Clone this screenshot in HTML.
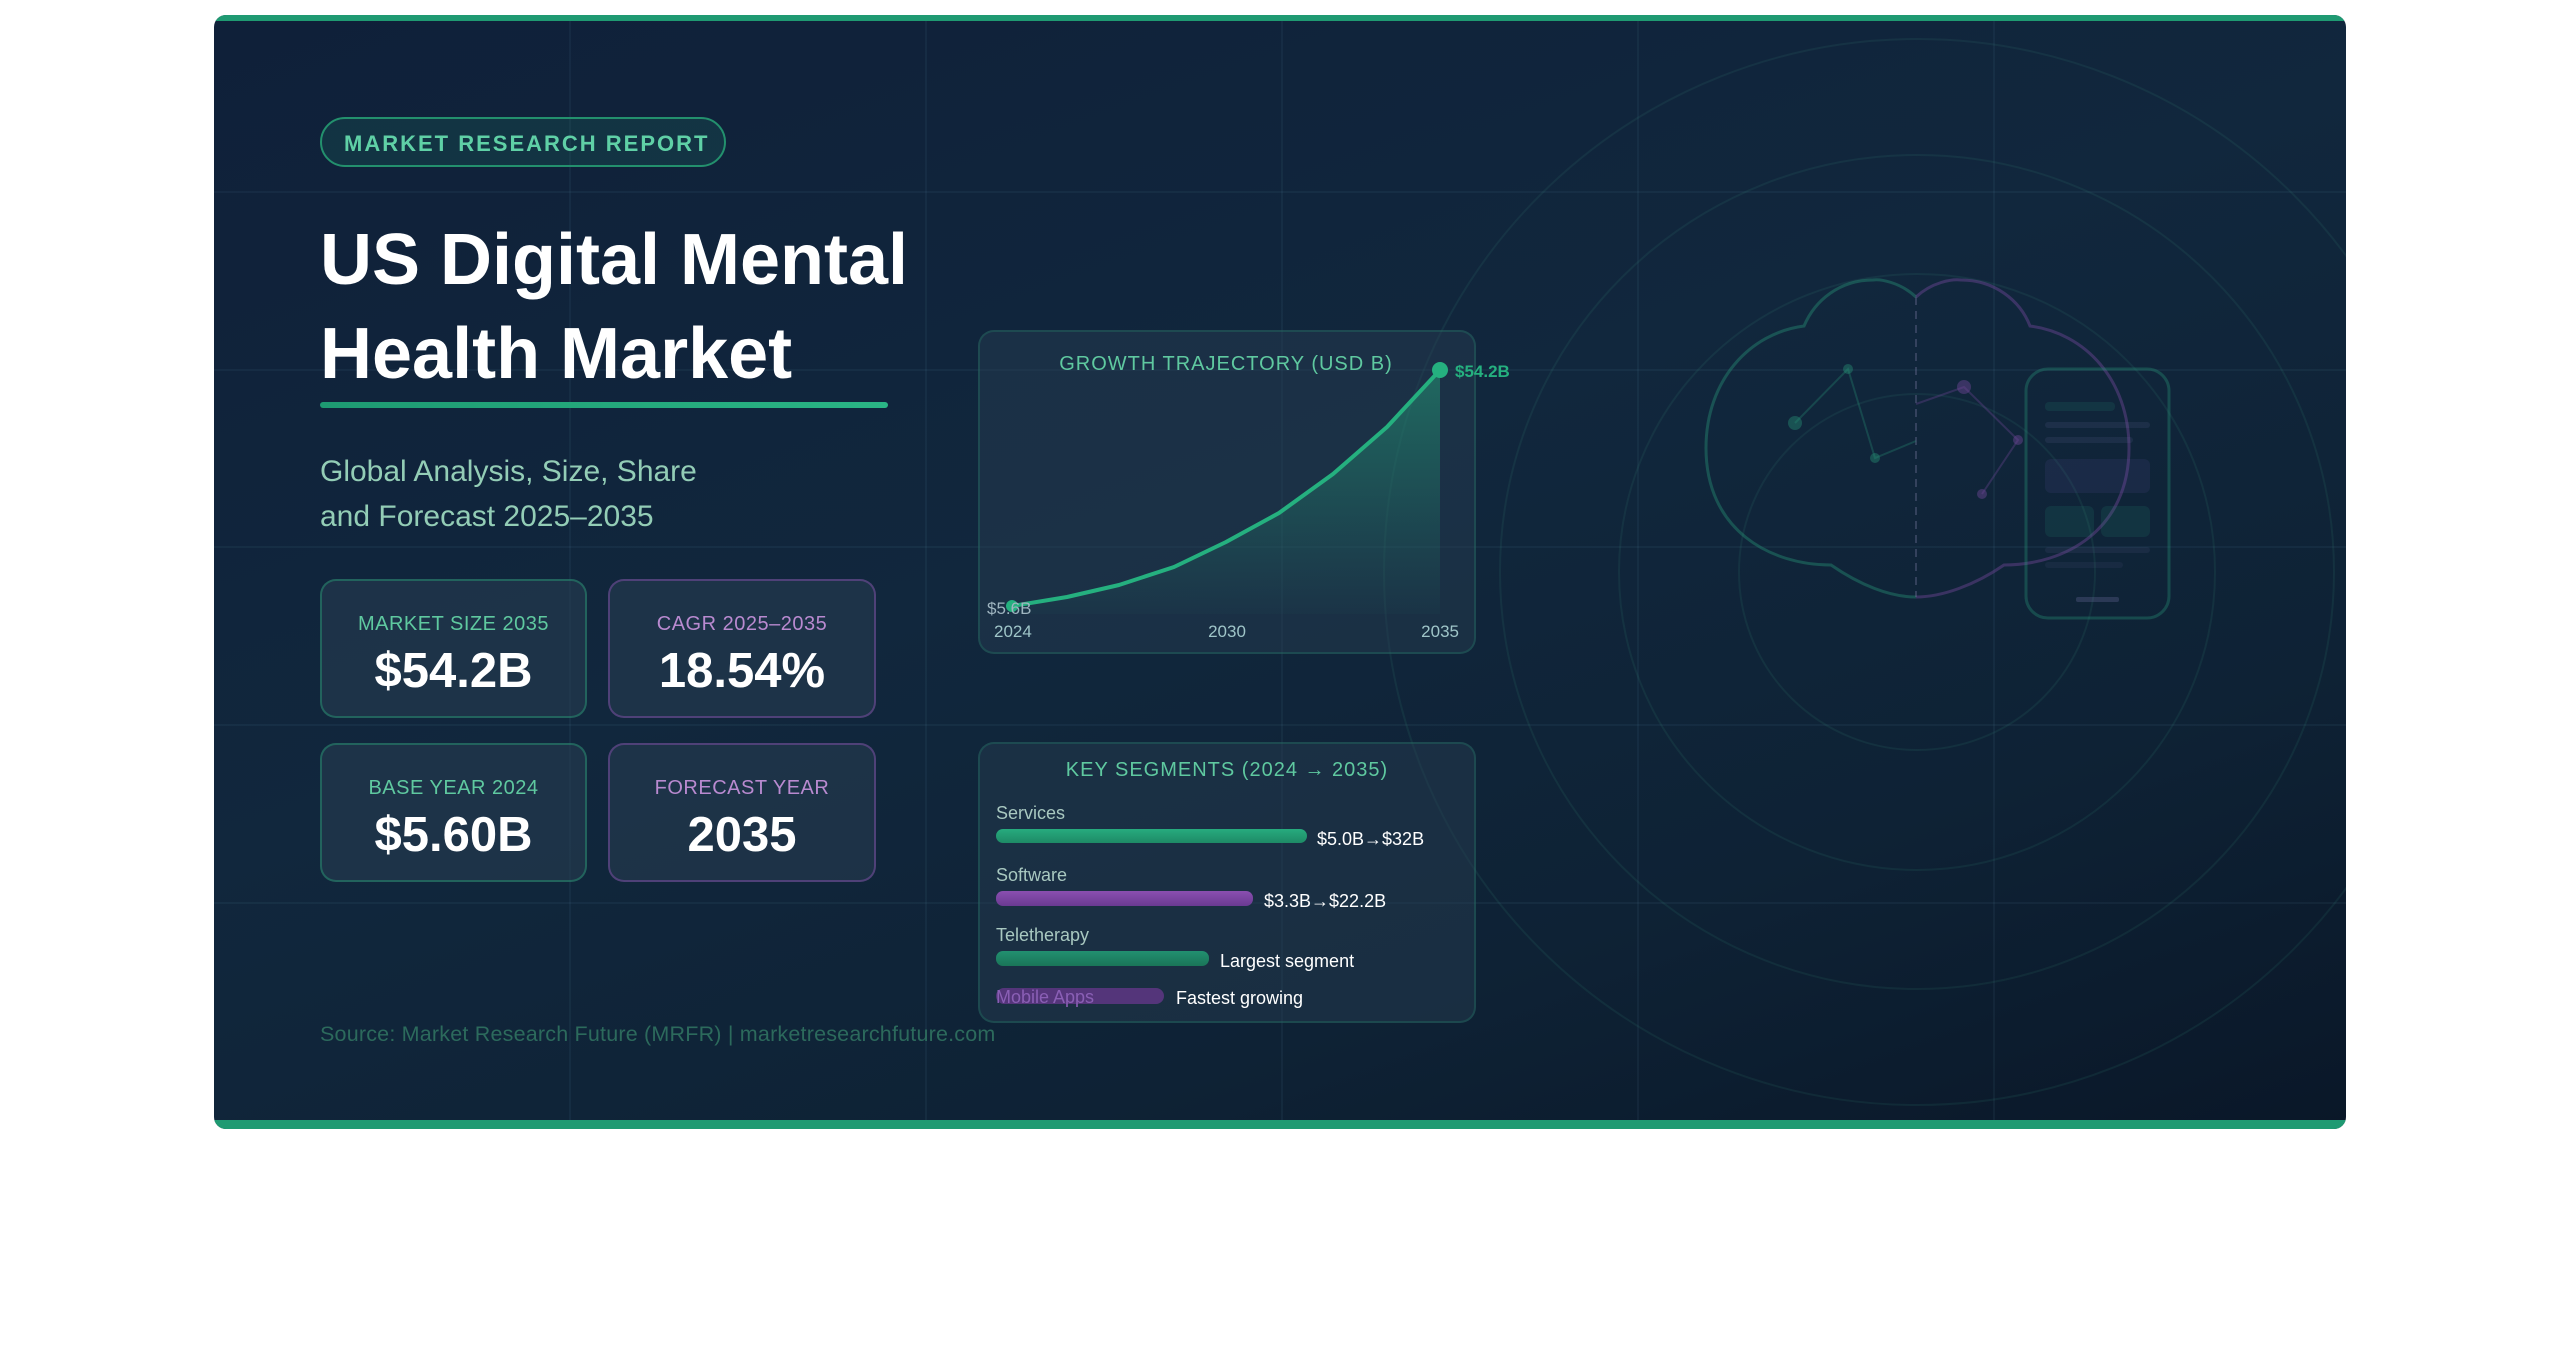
<!DOCTYPE html>
<html><head><meta charset="utf-8"><style>
*{margin:0;padding:0;box-sizing:border-box}
body{width:2560px;height:1365px;background:#fff;position:relative;overflow:hidden;font-family:"Liberation Sans",Arial,sans-serif}
.card{position:absolute;left:214px;top:15px;width:2132px;height:1114px;border-radius:12px;overflow:hidden;background:linear-gradient(160deg,#0f2039 0%,#11273d 45%,#0e2235 75%,#0a1728 100%)}
.abs{position:absolute;white-space:nowrap}
.box{position:absolute;border-radius:16px;background:rgba(40,62,82,0.55)}
.g{border:2px solid rgba(40,160,120,0.45)}
.p{border:2px solid rgba(130,80,170,0.5)}
.lbl{position:absolute;left:0;right:0;text-align:center;font-size:20px;letter-spacing:0.5px}
.val{position:absolute;left:0;right:0;text-align:center;font-size:49px;font-weight:bold;color:#fff}
</style></head><body>
<div class="card">
<svg width="2132" height="1114" style="position:absolute;left:0;top:0">
<g stroke="rgba(120,170,200,0.07)" stroke-width="2">
<line x1="356" y1="0" x2="356" y2="1114"/><line x1="712" y1="0" x2="712" y2="1114"/><line x1="1068" y1="0" x2="1068" y2="1114"/><line x1="1424" y1="0" x2="1424" y2="1114"/><line x1="1780" y1="0" x2="1780" y2="1114"/>
<line x1="0" y1="177" x2="2132" y2="177"/><line x1="0" y1="355" x2="2132" y2="355"/><line x1="0" y1="532" x2="2132" y2="532"/><line x1="0" y1="710" x2="2132" y2="710"/><line x1="0" y1="888" x2="2132" y2="888"/>
</g>
<g fill="none" stroke="rgba(60,160,140,0.11)" stroke-width="2" transform="translate(-214,-15)">
<circle cx="1917" cy="572" r="533"/>
<circle cx="1917" cy="572" r="417"/>
<circle cx="1917" cy="572" r="298"/>
<circle cx="1917" cy="572" r="178"/>
</g>
<g transform="translate(-214,-15)" fill="none" stroke-width="3">
<path d="M1916 297 C1900 282 1880 279 1873 280 C1840 280 1815 300 1804 326 C1750 333 1706 380 1706 448 C1706 530 1770 565 1831 565 C1860 585 1890 597 1916 597" stroke="rgba(40,150,120,0.4)"/>
<path d="M1916 297 C1932 282 1952 279 1961 280 C1994 280 2020 300 2030 326 C2085 333 2129 380 2129 448 C2129 530 2065 565 2004 565 C1975 585 1942 597 1916 597" stroke="rgba(110,70,150,0.45)"/>
<line x1="1916" y1="297" x2="1916" y2="597" stroke="rgba(120,120,160,0.35)" stroke-width="2" stroke-dasharray="8 6"/>
<g stroke="rgba(40,150,120,0.3)" stroke-width="2"><polyline points="1795,423 1848,369 1875,458 1916,441"/></g>
<g stroke="rgba(110,70,150,0.35)" stroke-width="2"><polyline points="1916,404 1964,387 2018,440 1982,494"/></g>
<g stroke="none"><circle cx="1795" cy="423" r="7" fill="rgba(40,150,120,0.4)"/><circle cx="1848" cy="369" r="5" fill="rgba(40,150,120,0.4)"/><circle cx="1875" cy="458" r="5" fill="rgba(40,150,120,0.4)"/>
<circle cx="1964" cy="387" r="7" fill="rgba(110,70,150,0.45)"/><circle cx="2018" cy="440" r="5" fill="rgba(110,70,150,0.45)"/><circle cx="1982" cy="494" r="5" fill="rgba(110,70,150,0.45)"/></g>
<rect x="2026" y="369" width="143" height="249" rx="22" stroke="rgba(40,150,120,0.35)"/>
<g stroke="none" fill="rgba(40,150,120,0.15)"><rect x="2045" y="402" width="70" height="9" rx="4"/><rect x="2045" y="422" width="105" height="6" rx="3" fill="rgba(110,110,160,0.15)"/><rect x="2045" y="437" width="88" height="6" rx="3" fill="rgba(110,110,160,0.15)"/>
<rect x="2045" y="459" width="105" height="34" rx="6" fill="rgba(110,90,170,0.12)"/><rect x="2045" y="506" width="49" height="31" rx="6"/><rect x="2101" y="506" width="49" height="31" rx="6"/>
<rect x="2045" y="547" width="105" height="6" rx="3" fill="rgba(110,110,160,0.12)"/><rect x="2045" y="562" width="78" height="6" rx="3" fill="rgba(110,110,160,0.1)"/><rect x="2076" y="597" width="43" height="5" rx="2" fill="rgba(110,110,160,0.3)"/></g>
</g>
</svg>
<div style="position:absolute;left:0;top:0;width:2132px;height:6px;background:#1f9a72"></div>
<div style="position:absolute;left:0;bottom:0;width:2132px;height:9px;background:#1f9a72"></div>
</div>

<div class="abs" style="left:320px;top:117px;width:406px;height:50px;border:2px solid #23906d;border-radius:25px;background:rgba(30,120,100,0.22)"></div>
<div class="abs" style="left:344px;top:131px;font-size:22px;font-weight:bold;letter-spacing:2px;color:#5fd0a6">MARKET RESEARCH REPORT</div>
<div class="abs" style="left:320px;top:213px;font-size:72px;line-height:94px;font-weight:bold;color:#fff">US Digital Mental<br>Health Market</div>
<div class="abs" style="left:320px;top:402px;width:568px;height:6px;border-radius:3px;background:linear-gradient(90deg,#1e9a72,#2ab585)"></div>
<div class="abs" style="left:320px;top:449px;font-size:30px;line-height:45px;color:#93cdb6">Global Analysis, Size, Share<br>and Forecast 2025–2035</div>

<div class="box g" style="left:320px;top:579px;width:267px;height:139px"><div class="lbl" style="top:32px;color:#5fc9a0">MARKET SIZE 2035</div><div class="val" style="top:62px">$54.2B</div></div>
<div class="box p" style="left:608px;top:579px;width:268px;height:139px"><div class="lbl" style="top:32px;color:#b98ad0">CAGR 2025–2035</div><div class="val" style="top:62px">18.54%</div></div>
<div class="box g" style="left:320px;top:743px;width:267px;height:139px"><div class="lbl" style="top:32px;color:#5fc9a0">BASE YEAR 2024</div><div class="val" style="top:62px">$5.60B</div></div>
<div class="box p" style="left:608px;top:743px;width:268px;height:139px"><div class="lbl" style="top:32px;color:#b98ad0">FORECAST YEAR</div><div class="val" style="top:62px">2035</div></div>

<div class="box" style="left:978px;top:330px;width:498px;height:324px;border:2px solid rgba(40,150,120,0.25);background:rgba(40,62,82,0.45)"></div>
<svg width="2560" height="1365" style="position:absolute;left:0;top:0">
<defs><linearGradient id="fa" x1="0" y1="0" x2="0" y2="1"><stop offset="0" stop-color="#25a07a" stop-opacity="0.5"/><stop offset="1" stop-color="#25a07a" stop-opacity="0.03"/></linearGradient></defs>
<path d="M1012 606 L1067 597 L1119 585 L1174 567 L1226 542 L1279 513 L1333 474 L1387 427 L1440 370 L1440 614 L1012 614 Z" fill="url(#fa)"/>
<polyline points="1012,606 1067,597 1119,585 1174,567 1226,542 1279,513 1333,474 1387,427 1440,370" fill="none" stroke="#25b07f" stroke-width="4" stroke-linejoin="round"/>
<circle cx="1440" cy="370" r="8" fill="#25b07f"/><circle cx="1012" cy="606" r="6" fill="#25b07f"/>
<g font-family="Liberation Sans, Arial, sans-serif">
<text x="1226" y="370" text-anchor="middle" font-size="20" letter-spacing="1" fill="#5fc9a0">GROWTH TRAJECTORY (USD B)</text>
<text x="1455" y="377" font-size="17" font-weight="bold" fill="#25b07f">$54.2B</text>
<text x="987" y="614" font-size="17" fill="#9fb5c0">$5.6B</text>
<text x="994" y="637" font-size="17" fill="#9fc5c8">2024</text>
<text x="1227" y="637" text-anchor="middle" font-size="17" fill="#9fc5c8">2030</text>
<text x="1459" y="637" text-anchor="end" font-size="17" fill="#9fc5c8">2035</text>
</g>
</svg>

<div class="box" style="left:978px;top:742px;width:498px;height:281px;border:2px solid rgba(40,150,120,0.25);background:rgba(40,62,82,0.45)"></div>
<div class="abs" style="left:978px;width:498px;top:759px;text-align:center;font-size:20px;letter-spacing:1px;color:#5fc9a0">KEY SEGMENTS (2024 → 2035)</div>
<div class="abs" style="left:996px;top:803px;font-size:18px;color:#a8c8c0">Services</div>
<div class="abs" style="left:996px;top:829px;width:311px;height:14px;border-radius:7px;background:linear-gradient(180deg,#27ab7e,#1e8a66)"></div>
<div class="abs" style="left:1317px;top:829px;font-size:18px;color:#fff">$5.0B→$32B</div>
<div class="abs" style="left:996px;top:865px;font-size:18px;color:#a8c8c0">Software</div>
<div class="abs" style="left:996px;top:891px;width:257px;height:15px;border-radius:7px;background:linear-gradient(180deg,#8a4fb0,#6a3a92)"></div>
<div class="abs" style="left:1264px;top:891px;font-size:18px;color:#fff">$3.3B→$22.2B</div>
<div class="abs" style="left:996px;top:925px;font-size:18px;color:#a8c8c0">Teletherapy</div>
<div class="abs" style="left:996px;top:951px;width:213px;height:15px;border-radius:7px;background:linear-gradient(180deg,#229070,#1a7558)"></div>
<div class="abs" style="left:1220px;top:951px;font-size:18px;color:#fff">Largest segment</div>
<div class="abs" style="left:996px;top:988px;width:168px;height:16px;border-radius:8px;background:#54357a"></div>
<div class="abs" style="left:996px;top:987px;font-size:18px;color:#8a5fb5">Mobile Apps</div>
<div class="abs" style="left:1176px;top:988px;font-size:18px;color:#fff">Fastest growing</div>

<div class="abs" style="left:320px;top:1022px;font-size:21.5px;letter-spacing:0.2px;color:#2c6a5c">Source: Market Research Future (MRFR) | marketresearchfuture.com</div>
</body></html>
